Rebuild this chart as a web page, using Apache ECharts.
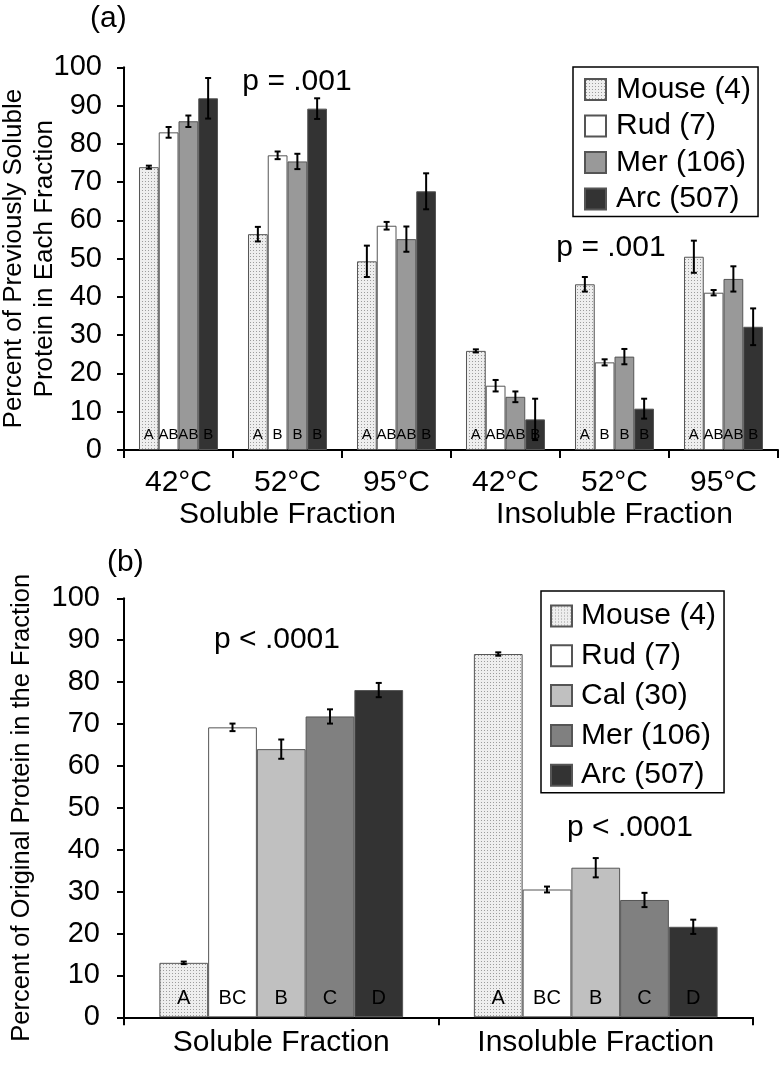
<!DOCTYPE html>
<html>
<head>
<meta charset="utf-8">
<script src="https://cdn.jsdelivr.net/npm/echarts@6/dist/echarts.min.js"></script>
<style>
html,body{margin:0;padding:0;background:#fff;}
#a{position:absolute;left:0;top:0;width:781px;height:540px;}
#b{position:absolute;left:0;top:540px;width:781px;height:538px;}
</style>
</head>
<body>
<div id="a"></div>
<div id="b"></div>
<script>
// ---------- Panel (a) data ----------
const catsA = ['42°C', '52°C', '95°C', '42°C', '52°C', '95°C'];
const groupsA = ['Soluble Fraction', 'Insoluble Fraction'];
const namesA = ['Mouse (4)', 'Rud (7)', 'Mer (106)', 'Arc (507)'];
const mouseA = [73.9, 56.4, 49.3, 25.9, 43.3, 50.5];
const rudA   = [83.0, 77.0, 58.6, 16.8, 22.9, 41.1];
const merA   = [85.9, 75.4, 55.1, 13.9, 24.4, 44.7];
const arcA   = [91.9, 89.2, 67.6, 8.0, 10.8, 32.2];
const mouseAErr = [0.4, 1.9, 4.1, 0.4, 1.9, 4.2];
const rudAErr   = [1.4, 1.0, 1.0, 1.5, 0.8, 0.7];
const merAErr   = [1.5, 2.0, 3.3, 1.4, 2.0, 3.3];
const arcAErr   = [5.3, 2.7, 4.7, 5.4, 2.6, 4.8];
const mouseALet = ['A', 'A', 'A', 'A', 'A', 'A'];
const rudALet   = ['AB', 'B', 'AB', 'AB', 'B', 'AB'];
const merALet   = ['AB', 'B', 'AB', 'AB', 'B', 'AB'];
const arcALet   = ['B', 'B', 'B', 'B', 'B', 'B'];
const yTicks = [0, 10, 20, 30, 40, 50, 60, 70, 80, 90, 100];

// ---------- Panel (b) data ----------
const catsB = ['Soluble Fraction', 'Insoluble Fraction'];
const namesB = ['Mouse (4)', 'Rud (7)', 'Cal (30)', 'Mer (106)', 'Arc (507)'];
const mouseB = [13.0, 86.7];
const rudB   = [69.2, 30.5];
const calB   = [64.0, 35.7];
const merB   = [71.8, 28.0];
const arcB   = [78.1, 21.6];
const mouseBErr = [0.3, 0.4];
const rudBErr   = [0.9, 0.7];
const calBErr   = [2.3, 2.3];
const merBErr   = [1.7, 1.7];
const arcBErr   = [1.7, 1.7];
const lettersB = ['A', 'BC', 'B', 'C', 'D'];

// ---------- styling ----------
const FONT = '"Liberation Sans", Arial, Helvetica, sans-serif';
function makeDots() {
  const c = document.createElement('canvas');
  c.width = 3; c.height = 3;
  const g = c.getContext('2d');
  g.fillStyle = '#eeeeee'; g.fillRect(0, 0, 3, 3);
  g.fillStyle = '#9c9c9c'; g.fillRect(1, 1, 1, 1);
  return { image: c, repeat: 'repeat' };
}
const dots = makeDots();

function errRender(idx, n, gapFrac) {
  return function (params, api) {
    const ci = api.value(0), v = api.value(1), e = api.value(2);
    const c = api.coord([ci, v]);
    const band = api.size([1, 0])[0];
    const gw = band * (1 - gapFrac);
    const bw = gw / n;
    const x = c[0] - gw / 2 + bw * (idx + 0.5);
    const top = api.coord([ci, v + e])[1];
    const bot = api.coord([ci, v - e])[1];
    const h = 3;
    const st = { stroke: '#000', lineWidth: 2 };
    return {
      type: 'group', children: [
        { type: 'line', shape: { x1: x, y1: top, x2: x, y2: bot }, style: st },
        { type: 'line', shape: { x1: x - h, y1: top, x2: x + h, y2: top }, style: st },
        { type: 'line', shape: { x1: x - h, y1: bot, x2: x + h, y2: bot }, style: st }
      ]
    };
  };
}

function buildSeries(names, vals, errs, colors, letters, gapPct, labelSize, labelDist) {
  const out = [];
  const n = names.length;
  names.forEach((nm, i) => {
    out.push({
      type: 'bar', name: nm, data: vals[i],
      barGap: '0%', barCategoryGap: gapPct + '%',
      itemStyle: { color: colors[i], borderColor: '#555', borderWidth: 1 },
      label: {
        show: true, position: 'insideBottom', distance: labelDist,
        fontSize: labelSize, fontFamily: FONT, color: '#000',
        textBorderWidth: 0,
        formatter: p => letters[i][p.dataIndex]
      },
      emphasis: { disabled: true },
      animation: false
    });
  });
  names.forEach((nm, i) => {
    out.push({
      type: 'custom', z: 5,
      data: vals[i].map((v, k) => [k, v, errs[i][k]]),
      renderItem: errRender(i, n, gapPct / 100),
      animation: false, silent: true
    });
  });
  return out;
}

const axisLineStyle = { color: '#000', width: 2 };

// ---------- chart (a) ----------
const chartA = echarts.init(document.getElementById('a'), null, { renderer: 'canvas' });
chartA.setOption({
  animation: false,
  backgroundColor: '#fff',
  textStyle: { fontFamily: FONT },
  grid: { left: 124, right: 3, top: 67.3, bottom: 90, outerBoundsMode: 'none', containLabel: false },
  xAxis: [{
    type: 'category', data: catsA,
    axisLine: { lineStyle: axisLineStyle },
    axisTick: { show: true, length: 8, lineStyle: axisLineStyle },
    axisLabel: { fontSize: 30, color: '#000', margin: 18, fontFamily: FONT, interval: 0 }
  }, {
    type: 'category', data: groupsA, position: 'bottom', offset: 32,
    axisLine: { show: false }, axisTick: { show: false },
    axisLabel: { fontSize: 30, color: '#000', margin: 18, fontFamily: FONT, interval: 0 }
  }],
  yAxis: {
    type: 'value', min: yTicks[0], max: yTicks[yTicks.length - 1], interval: 10,
    axisLine: { show: true, lineStyle: axisLineStyle },
    axisTick: { show: true, length: 7, lineStyle: axisLineStyle },
    splitLine: { show: false },
    axisLabel: { fontSize: 29, color: '#000', margin: 22, fontFamily: FONT },
    name: 'Percent of Previously Soluble\nProtein in Each Fraction',
    nameLocation: 'middle', nameGap: 64, nameMoveOverlap: false,
    nameTextStyle: { fontSize: 26, color: '#000', lineHeight: 31, fontFamily: FONT }
  },
  legend: {
    data: namesA, orient: 'vertical', left: 573, top: 67,
    icon: 'rect', itemWidth: 21, itemHeight: 21, itemGap: 6.5,
    padding: [7.5, 7, 2.5, 11],
    borderColor: '#000', borderWidth: 1.5, backgroundColor: '#fff',
    selectedMode: false,
    textStyle: { fontSize: 30, color: '#000', fontFamily: FONT, padding: [0, 0, 0, 5] }
  },
  graphic: [
    { type: 'text', left: 90, top: 4, style: { text: '(a)', fontSize: 30, fontFamily: FONT, fill: '#000' } },
    { type: 'text', x: 297, y: 82, style: { text: 'p = .001', fontSize: 30, fontFamily: FONT, fill: '#000', align: 'center', verticalAlign: 'middle' } },
    { type: 'text', x: 611, y: 248, style: { text: 'p = .001', fontSize: 30, fontFamily: FONT, fill: '#000', align: 'center', verticalAlign: 'middle' } }
  ],
  series: buildSeries(namesA, [mouseA, rudA, merA, arcA], [mouseAErr, rudAErr, merAErr, arcAErr],
    [dots, '#ffffff', '#999999', '#333333'], [mouseALet, rudALet, merALet, arcALet], 27.5, 15, 8)
});

// ---------- chart (b) ----------
const chartB = echarts.init(document.getElementById('b'), null, { renderer: 'canvas' });
const lettersBArr = lettersB.map(l => [l, l]);
chartB.setOption({
  animation: false,
  backgroundColor: '#fff',
  textStyle: { fontFamily: FONT },
  grid: { left: 124, right: 28, top: 58.3, bottom: 60.7, outerBoundsMode: 'none', containLabel: false },
  xAxis: {
    type: 'category', data: catsB,
    axisLine: { lineStyle: axisLineStyle },
    axisTick: { show: true, length: 8, lineStyle: axisLineStyle },
    axisLabel: { fontSize: 30, color: '#000', margin: 10, fontFamily: FONT, interval: 0 }
  },
  yAxis: {
    type: 'value', min: yTicks[0], max: yTicks[yTicks.length - 1], interval: 10,
    axisLine: { show: true, lineStyle: axisLineStyle },
    axisTick: { show: true, length: 7, lineStyle: axisLineStyle },
    splitLine: { show: false },
    axisLabel: { fontSize: 29, color: '#000', margin: 24, fontFamily: FONT },
    name: 'Percent of Original Protein in the Fraction',
    nameLocation: 'middle', nameGap: 89, nameMoveOverlap: false,
    nameTextStyle: { fontSize: 25.5, color: '#000', fontFamily: FONT }
  },
  legend: {
    data: namesB, orient: 'vertical', left: 541, top: 51,
    icon: 'rect', itemWidth: 21, itemHeight: 21, itemGap: 9.8,
    padding: [10, 8, 2.5, 9],
    borderColor: '#000', borderWidth: 1.5, backgroundColor: '#fff',
    selectedMode: false,
    textStyle: { fontSize: 30, color: '#000', fontFamily: FONT, padding: [0, 0, 0, 4] }
  },
  graphic: [
    { type: 'text', left: 107, top: 8, style: { text: '(b)', fontSize: 30, fontFamily: FONT, fill: '#000' } },
    { type: 'text', x: 277, y: 100, style: { text: 'p < .0001', fontSize: 30, fontFamily: FONT, fill: '#000', align: 'center', verticalAlign: 'middle' } },
    { type: 'text', x: 630, y: 288, style: { text: 'p < .0001', fontSize: 30, fontFamily: FONT, fill: '#000', align: 'center', verticalAlign: 'middle' } }
  ],
  series: buildSeries(namesB, [mouseB, rudB, calB, merB, arcB], [mouseBErr, rudBErr, calBErr, merBErr, arcBErr],
    [dots, '#ffffff', '#c0c0c0', '#808080', '#333333'], lettersBArr, 22.5, 20, 9)
});
</script>
</body>
</html>
